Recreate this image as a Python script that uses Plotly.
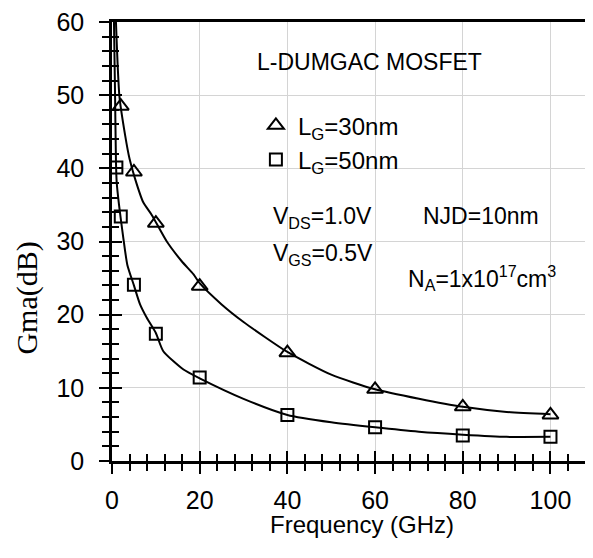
import plotly.graph_objects as go

# measured points (Frequency in GHz, Gma in dB)
freq_30 = [2, 5, 10, 20, 40, 60, 80, 100]
gma_30 = [48.5, 39.5, 32.5, 23.9, 14.8, 9.8, 7.4, 6.3]

freq_50 = [1, 2, 5, 10, 20, 40, 60, 80, 100]
gma_50 = [40.1, 33.4, 24.1, 17.4, 11.4, 6.3, 4.6, 3.5, 3.3]

# fitted curves
fit_freq_30 = [0.9, 1.7, 3.0, 4.0, 5.25, 7.1, 9.1, 12.5, 15.9, 18.6, 20, 25, 30, 40, 50, 60, 70, 80, 90, 100]
fit_gma_30 = [60, 49.8, 44.5, 41.3, 38.6, 35.4, 33.6, 30.0, 27.3, 25.5, 24.3, 21.4, 19.0, 14.9, 11.8, 9.8, 8.5, 7.4, 6.7, 6.4]

fit_freq_50 = [0.45, 0.7, 0.9, 1.07, 1.6, 2.6, 3.5, 5, 6.4, 7.9, 10, 11.7, 16.3, 20, 30, 40, 50, 60, 70, 80, 90, 100]
fit_gma_50 = [60, 50, 41, 38.1, 35.0, 30.4, 26.8, 24.0, 21.4, 19.6, 17.5, 15.0, 12.5, 11.3, 8.5, 6.3, 5.3, 4.6, 4.0, 3.6, 3.3, 3.3]

x_range = [0, 109.7]
y_range = [0, 60]

font_sans = "Liberation Sans, Arial, sans-serif"

fig = go.Figure()

fig.add_trace(go.Scatter(
    x=fit_freq_30, y=fit_gma_30, mode="lines",
    line=dict(color="black", width=2, shape="spline", smoothing=0.6),
    showlegend=False
))
fig.add_trace(go.Scatter(
    x=fit_freq_50, y=fit_gma_50, mode="lines",
    line=dict(color="black", width=2, shape="spline", smoothing=0.6),
    showlegend=False
))
fig.add_trace(go.Scatter(
    x=freq_30, y=gma_30, mode="markers", name="L<sub>G</sub>=30nm",
    marker=dict(symbol="triangle-up-open", size=14, color="black",
                line=dict(width=2, color="black"))
))
fig.add_trace(go.Scatter(
    x=freq_50, y=gma_50, mode="markers", name="L<sub>G</sub>=50nm",
    marker=dict(symbol="square-open", size=12, color="black",
                line=dict(width=2, color="black"))
))
# empty trace so the overlay axes (inside half of the crossing ticks) exist
fig.add_trace(go.Scatter(x=[], y=[], xaxis="x2", yaxis="y2", showlegend=False))

# page body adds an 8px offset, so the figure is 8px smaller than the window
fig.update_layout(
    width=585, height=550,
    margin=dict(l=104, r=0, t=11, b=97),
    plot_bgcolor="white", paper_bgcolor="white",
    font=dict(family=font_sans, size=24, color="black"),
    legend=dict(
        x=0.295, y=0.815, xanchor="left", yanchor="top",
        bgcolor="rgba(0,0,0,0)", font=dict(size=24),
        itemwidth=34, tracegroupgap=0
    ),
    xaxis=dict(
        range=x_range, dtick=20, tick0=0,
        showline=True, linecolor="black", linewidth=2.5, mirror=True,
        ticks="outside", ticklen=10, tickwidth=2, tickcolor="black",
        minor=dict(dtick=4, ticks="outside", ticklen=7, tickwidth=1.5, tickcolor="black", showgrid=False),
        showgrid=True, gridcolor="#d4d4d4", gridwidth=1,
        zeroline=False, ticklabelstandoff=5, ticklabeloverflow="allow",
        tickfont=dict(size=25)
    ),
    yaxis=dict(
        range=y_range, dtick=10, tick0=0,
        showline=True, linecolor="black", linewidth=2.5,
        ticks="outside", ticklen=10, tickwidth=2, tickcolor="black",
        minor=dict(dtick=2, ticks="outside", ticklen=7, tickwidth=1.5, tickcolor="black", showgrid=False),
        showgrid=True, gridcolor="#d4d4d4", gridwidth=1,
        zeroline=False, ticklabelstandoff=10, ticklabeloverflow="allow",
        tickfont=dict(size=25)
    ),
    xaxis2=dict(
        range=x_range, dtick=20, tick0=0, overlaying="x", anchor="y2",
        ticks="inside", ticklen=10, tickwidth=2, tickcolor="black",
        minor=dict(dtick=4, ticks="inside", ticklen=7, tickwidth=1.5, tickcolor="black"),
        showgrid=False, showline=False, showticklabels=False, zeroline=False
    ),
    yaxis2=dict(
        range=y_range, dtick=10, tick0=0, overlaying="y", anchor="x2",
        ticks="inside", ticklen=10, tickwidth=2, tickcolor="black",
        minor=dict(dtick=2, ticks="inside", ticklen=7, tickwidth=1.5, tickcolor="black"),
        showgrid=False, showline=False, showticklabels=False, zeroline=False
    ),
)

# axis titles
fig.add_annotation(
    text="Frequency (GHz)", xref="paper", yref="paper",
    x=0.52, y=-0.145, xanchor="center", yanchor="middle",
    showarrow=False, font=dict(size=24)
)
fig.add_annotation(
    text="Gma(dB)", xref="paper", yref="paper",
    x=-0.2162, y=0.37, xanchor="left", yanchor="middle", textangle=-90,
    showarrow=False, font=dict(family="Liberation Serif, Times New Roman, serif", size=30)
)

# in-plot labels
labels = [
    ("L-DUMGAC MOSFET", 32.6, 54.5),
    ("V<sub>DS</sub>=1.0V", 36.3, 33.3),
    ("NJD=10nm", 70.4, 33.5),
    ("V<sub>GS</sub>=0.5V", 36.3, 28.2),
    ("N<sub>A</sub>=1x10<sup>17</sup>cm<sup>3</sup>", 67.0, 25.0),
]
for txt, lx, ly in labels:
    fig.add_annotation(
        text=txt, x=lx, y=ly, xanchor="left", yanchor="middle",
        showarrow=False, font=dict(size=23)
    )

fig.write_html("out.html")
